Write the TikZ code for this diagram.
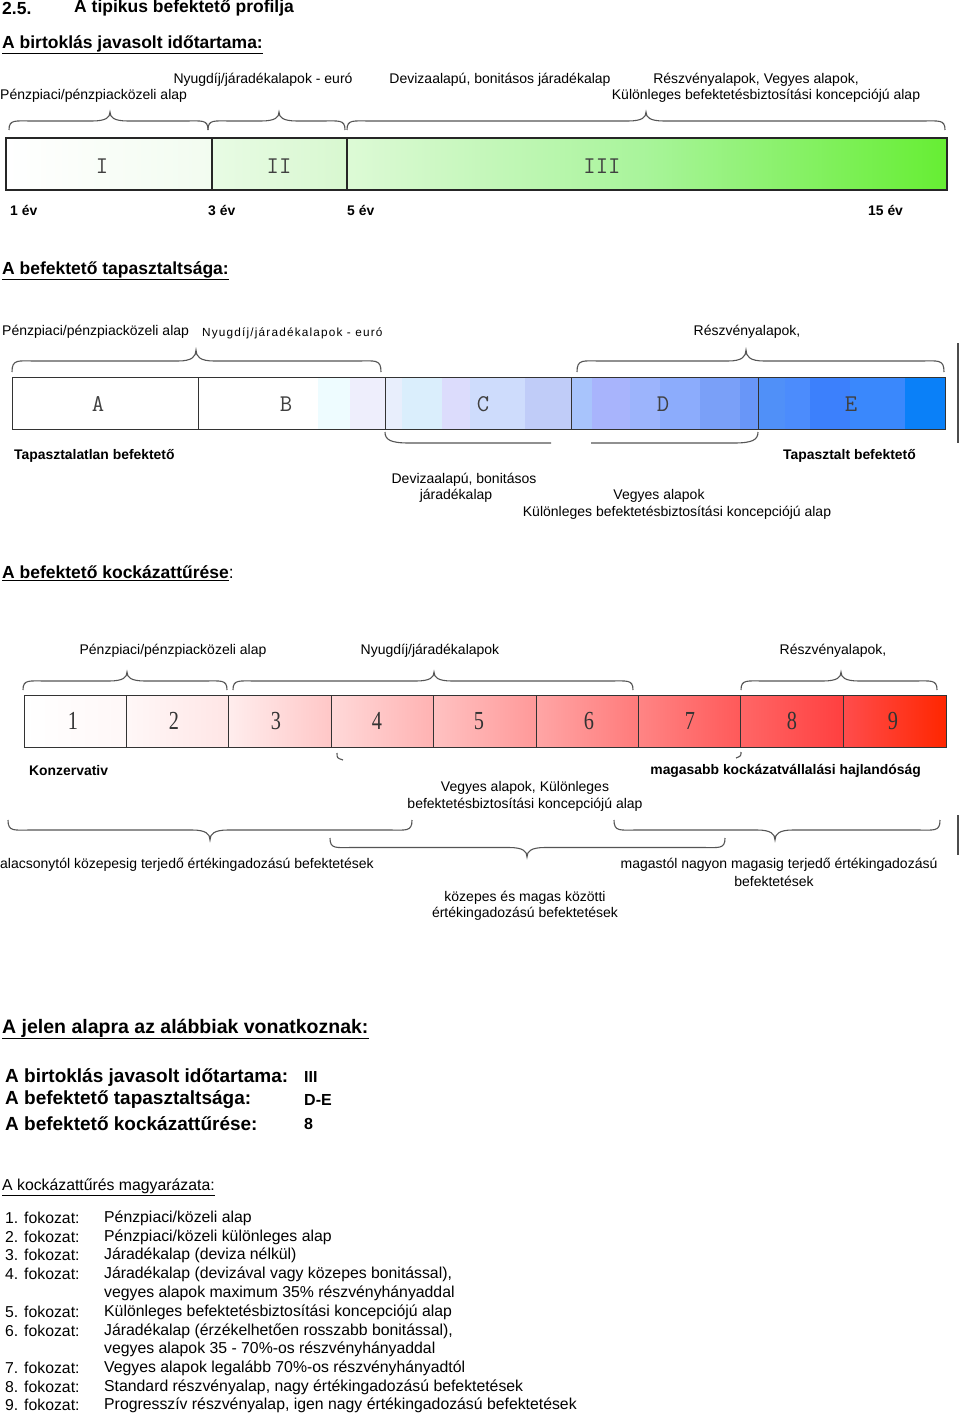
\documentclass[tikz,border=0pt]{standalone}
\usepackage{fontspec}
\setmainfont{Liberation Sans}
\newfontfamily\serf{Liberation Serif}
\newfontfamily\spaced[LetterSpace=10]{Liberation Sans}
\newcommand\fsz[1]{\fontsize{#1}{#1}\selectfont}
\newcommand\narrowtxt[1]{\scalebox{0.78}[1]{#1}}
% brace: x1 x2 xtip yends ytip
\newcommand\mybrace[5]{%
  \draw[bracel] (#1,#4) .. controls (#1,{#4+0.6*(#5-#4)}) and ({#1+6},{(#4+#5)/2}) .. ({#1+24},{(#4+#5)/2})
    -- ({#3-18},{(#4+#5)/2}) .. controls ({#3-4},{(#4+#5)/2}) and (#3,{#4+0.7*(#5-#4)}) .. (#3,#5)
    .. controls (#3,{#4+0.7*(#5-#4)}) and ({#3+4},{(#4+#5)/2}) .. ({#3+18},{(#4+#5)/2})
    -- ({#2-24},{(#4+#5)/2}) .. controls ({#2-6},{(#4+#5)/2}) and (#2,{#4+0.6*(#5-#4)}) .. (#2,#4);}
% strip: x1 x2 hex
\newcommand\bstrip[3]{\definecolor{stripc}{HTML}{#3}\fill[stripc] (#1,377) rectangle (#2,429);}
\definecolor{braceg}{HTML}{555555}
\definecolor{gA}{HTML}{F2FCF0}
\definecolor{gB}{HTML}{E8FBE4}
\definecolor{gC}{HTML}{D8F8D0}
\definecolor{gD}{HTML}{DDFAD6}
\definecolor{gE}{HTML}{A8F49A}
\definecolor{gF}{HTML}{66EE33}
\begin{document}
\begin{tikzpicture}[x=1pt,y=-1pt,
  lbl/.style={inner sep=0pt,font=\fsz{14}},
  blbl/.style={inner sep=0pt,font=\fsz{13.9}\bfseries},
  head/.style={inner sep=0pt,font=\fsz{17.5}\bfseries},
  big/.style={inner sep=0pt,font=\fsz{19}\bfseries},
  lst/.style={inner sep=0pt,font=\fsz{15.8}},
  romn/.style={inner sep=0pt,font=\ttfamily\fsz{24},text=black!75},
  numn/.style={inner sep=0pt,font=\serf\fsz{26},text=black!80},
  bracel/.style={draw=braceg,line width=1.1pt},
  barline/.style={draw=black!85,line width=1.1pt},
  cellline/.style={draw=black!80,line width=0.9pt}]
\useasboundingbox (0,0) rectangle (960,1415);
\fill[white] (0,0) rectangle (960,1415);

% ---------- Title
\node[head,anchor=west] (t1) at (2,8) {2.5.};
\node[head,anchor=west] (t2) at (74,8) {A tipikus befektető profilja};
\node[head,anchor=west] (h1) at (2,45) {\underline{A birtoklás javasolt időtartama:}};

% ---------- Section 1
\node[lbl] (s1a) at (263,80) {Nyugdíj/járadékalapok - euró};
\node[lbl,anchor=west] (s1b) at (0,96) {Pénzpiaci/pénzpiacközeli alap};
\node[lbl] (s1c) at (500,80) {Devizaalapú, bonitásos járadékalap};
\node[lbl] (s1d) at (756,80) {Részvényalapok, Vegyes alapok,};
\node[lbl] (s1e) at (766,96) {Különleges befektetésbiztosítási koncepciójú alap};

\mybrace{9}{208}{110}{130}{112}
\mybrace{208}{345}{279}{130}{112}
\mybrace{347}{945}{646}{130}{112}

\shade[left color=white,right color=gA] (6,138) rectangle (212,190);
\shade[left color=gB,right color=gC] (212,138) rectangle (347,190);
\shade[left color=gD,right color=gE] (347,138) rectangle (647,190);
\shade[left color=gE,right color=gF] (646.5,138) rectangle (947,190);
\draw[barline] (6,138) rectangle (947,190);
\draw[barline] (212,138) -- (212,190) (347,138) -- (347,190);
\node[romn] (r1) at (102,166) {I};
\node[romn] (r2) at (279,166) {II};
\node[romn] (r3) at (602,166) {III};

\node[blbl,anchor=west] (y1) at (10,210) {1 év};
\node[blbl,anchor=west] (y3) at (208,210) {3 év};
\node[blbl,anchor=west] (y5) at (347,210) {5 év};
\node[blbl,anchor=west] (y15) at (868,210) {15 év};

% ---------- Section 2
\node[head,anchor=west] (h2) at (2,271) {\underline{A befektető tapasztaltsága:}};
\node[lbl,anchor=west] (s2a) at (2,332) {Pénzpiaci/pénzpiacközeli alap};
\node[inner sep=0pt,anchor=west,font=\spaced\fsz{11.8}] (s2b) at (202,333) {Nyugdíj/járadékalapok - euró};
\node[lbl] (s2c) at (747,332) {Részvényalapok,};

\mybrace{12}{381}{196}{372}{350}
\mybrace{577}{944}{746}{372}{350}

\fill[white] (12,377) rectangle (385,429);
\bstrip{318}{350}{EEFCFF}
\bstrip{350}{385}{EEEEFC}
\bstrip{385}{402}{E8EEFC}
\bstrip{402}{442}{DAEEFC}
\bstrip{442}{470}{DCDCFC}
\bstrip{470}{525}{CEDCFC}
\bstrip{525}{571}{C0CCF8}
\bstrip{571}{592}{A8C4FC}
\bstrip{592}{630}{A8B4FC}
\bstrip{630}{660}{9CB4FC}
\bstrip{660}{700}{8CACFC}
\bstrip{700}{740}{7AA0F8}
\bstrip{740}{758}{6896F8}
\bstrip{758}{785}{5090F8}
\bstrip{785}{810}{4C8CFC}
\bstrip{810}{850}{3C80FC}
\bstrip{850}{905}{3A88FC}
\bstrip{905}{945}{0A80F8}
\draw[cellline] (12,377) rectangle (945,429);
\draw[cellline] (198,377) -- (198,429) (385,377) -- (385,429)
  (571,377) -- (571,429) (758,377) -- (758,429);
\node[romn] (la) at (98,404) {A};
\node[romn] (lb) at (286,404) {B};
\node[romn] (lc) at (483,404) {C};
\node[romn] (ld) at (663,404) {D};
\node[romn] (le) at (851,404) {E};

\draw[bracel] (385,432) .. controls (385,440) and (391,443) .. (409,443) -- (551,443);
\draw[bracel] (591,443) -- (734,443) .. controls (752,443) and (758,440) .. (758,432);
\draw[draw=black!70,line width=1.6pt] (958,343) -- (958,443);

\node[blbl,anchor=west] (s2d) at (14,456) {Tapasztalatlan befektető};
\node[blbl,anchor=east] (s2e) at (916,456) {Tapasztalt befektető};
\node[lbl] (s2f) at (464,480) {Devizaalapú, bonitásos};
\node[lbl] (s2g) at (456,496) {járadékalap};
\node[lbl] (s2h) at (659,496) {Vegyes alapok};
\node[lbl] (s2i) at (677,513) {Különleges befektetésbiztosítási koncepciójú alap};

% ---------- Section 3
\node[head,anchor=west] (h3) at (2,573) {\underline{A befektető kockázattűrése}\mdseries:};
\node[lbl] (s3a) at (173,651) {Pénzpiaci/pénzpiacközeli alap};
\node[lbl] (s3b) at (430,651) {Nyugdíj/járadékalapok};
\node[lbl] (s3c) at (833,651) {Részvényalapok,};

\mybrace{23}{227}{127}{690}{672}
\mybrace{233}{633}{434}{690}{672}
\mybrace{741}{937}{841}{690}{672}

\shade[left color=white,right color=red!3] (24,695) rectangle (126.4,747);
\shade[left color=red!3,right color=red!10] (126.4,695) rectangle (228.8,747);
\shade[left color=red!7,right color=red!22] (228.8,695) rectangle (331.2,747);
\shade[left color=red!15,right color=red!30] (331.2,695) rectangle (433.6,747);
\shade[left color=red!24,right color=red!40] (433.6,695) rectangle (536,747);
\shade[left color=red!35,right color=red!52] (536,695) rectangle (638.4,747);
\shade[left color=red!48,right color=red!65] (638.4,695) rectangle (740.8,747);
\shade[left color=red!60,right color=red!75] (740.8,695) rectangle (843.2,747);
\shade[left color=red!70,right color=red!70!orange!100] (843.2,695) rectangle (946,747);
\draw[cellline] (24,695) rectangle (946,747);
\foreach \i in {1,...,8} {\draw[cellline] ({24+102.4*\i},695) -- ({24+102.4*\i},747);}
\node[numn] (n1) at (73,721) {\narrowtxt{1}};
\node[numn] (n2) at (174,721) {\narrowtxt{2}};
\node[numn] (n3) at (276,721) {\narrowtxt{3}};
\node[numn] (n4) at (377,721) {\narrowtxt{4}};
\node[numn] (n5) at (479,721) {\narrowtxt{5}};
\node[numn] (n6) at (589,721) {\narrowtxt{6}};
\node[numn] (n7) at (690,721) {\narrowtxt{7}};
\node[numn] (n8) at (792,721) {\narrowtxt{8}};
\node[numn] (n9) at (893,721) {\narrowtxt{9}};

\draw[bracel] (337,753) .. controls (337,758) .. (343,760);
\draw[bracel] (741,752) .. controls (741,756) .. (736,758);

\node[blbl,anchor=west] (s3d) at (29,771) {Konzervativ};
\node[blbl,anchor=east] (s3e) at (921,771) {magasabb kockázatvállalási hajlandóság};
\node[lbl] (s3f) at (525,788) {Vegyes alapok, Különleges};
\node[lbl] (s3g) at (525,805) {befektetésbiztosítási koncepciójú alap};

\mybrace{8}{412}{210}{820}{840}
\mybrace{330}{725}{527}{838}{857}
\mybrace{614}{940}{775}{820}{840}
\draw[draw=black!70,line width=1.6pt] (958,815) -- (958,855);

\node[lbl,anchor=west] (s3h) at (0,865) {alacsonytól közepesig terjedő értékingadozású befektetések};
\node[lbl] (s3i) at (779,865) {magastól nagyon magasig terjedő értékingadozású};
\node[lbl] (s3j) at (774,881) {befektetések};
\node[lbl] (s3k) at (525,898) {közepes és magas közötti};
\node[lbl] (s3l) at (525,914) {értékingadozású befektetések};

% ---------- Section 4
\node[inner sep=0pt,anchor=west,font=\fsz{19.5}\bfseries] (h4) at (2,1029) {\underline{A jelen alapra az alábbiak vonatkoznak:}};
\node[big,anchor=west] (q1) at (5,1077) {A birtoklás javasolt időtartama:};
\node[blbl,anchor=west,font=\fsz{16}\bfseries] (a1) at (304,1077) {III};
\node[big,anchor=west] (q2) at (5,1100) {A befektető tapasztaltsága:};
\node[blbl,anchor=west,font=\fsz{16}\bfseries] (a2) at (304,1100) {D-E};
\node[big,anchor=west] (q3) at (5,1124) {A befektető kockázattűrése:};
\node[blbl,anchor=west,font=\fsz{16}\bfseries] (a3) at (304,1124) {8};

\node[lst,anchor=west] (k0) at (2,1187) {\underline{A kockázattűrés magyarázata:}};
\node[lst,anchor=west] (f1) at (5,1218) {1. fokozat:};
\node[lst,anchor=west] (d1) at (104,1218) {Pénzpiaci/közeli alap};
\node[lst,anchor=west] (f2) at (5,1237) {2. fokozat:};
\node[lst,anchor=west] (d2) at (104,1237) {Pénzpiaci/közeli különleges alap};
\node[lst,anchor=west] (f3) at (5,1255) {3. fokozat:};
\node[lst,anchor=west] (d3) at (104,1255) {Járadékalap (deviza nélkül)};
\node[lst,anchor=west] (f4) at (5,1274) {4. fokozat:};
\node[lst,anchor=west] (d4) at (104,1274) {Járadékalap (devizával vagy közepes bonitással),};
\node[lst,anchor=west] (d4b) at (104,1293) {vegyes alapok maximum 35\% részvényhányaddal};
\node[lst,anchor=west] (f5) at (5,1312) {5. fokozat:};
\node[lst,anchor=west] (d5) at (104,1312) {Különleges befektetésbiztosítási koncepciójú alap};
\node[lst,anchor=west] (f6) at (5,1331) {6. fokozat:};
\node[lst,anchor=west] (d6) at (104,1331) {Járadékalap (érzékelhetően rosszabb bonitással),};
\node[lst,anchor=west] (d6b) at (104,1349) {vegyes alapok 35 - 70\%-os részvényhányaddal};
\node[lst,anchor=west] (f7) at (5,1368) {7. fokozat:};
\node[lst,anchor=west] (d7) at (104,1368) {Vegyes alapok legalább 70\%-os részvényhányadtól};
\node[lst,anchor=west] (f8) at (5,1387) {8. fokozat:};
\node[lst,anchor=west] (d8) at (104,1387) {Standard részvényalap, nagy értékingadozású befektetések};
\node[lst,anchor=west] (f9) at (5,1405) {9. fokozat:};
\node[lst,anchor=west] (d9) at (104,1405) {Progresszív részvényalap, igen nagy értékingadozású befektetések};
\end{tikzpicture}
\end{document}
